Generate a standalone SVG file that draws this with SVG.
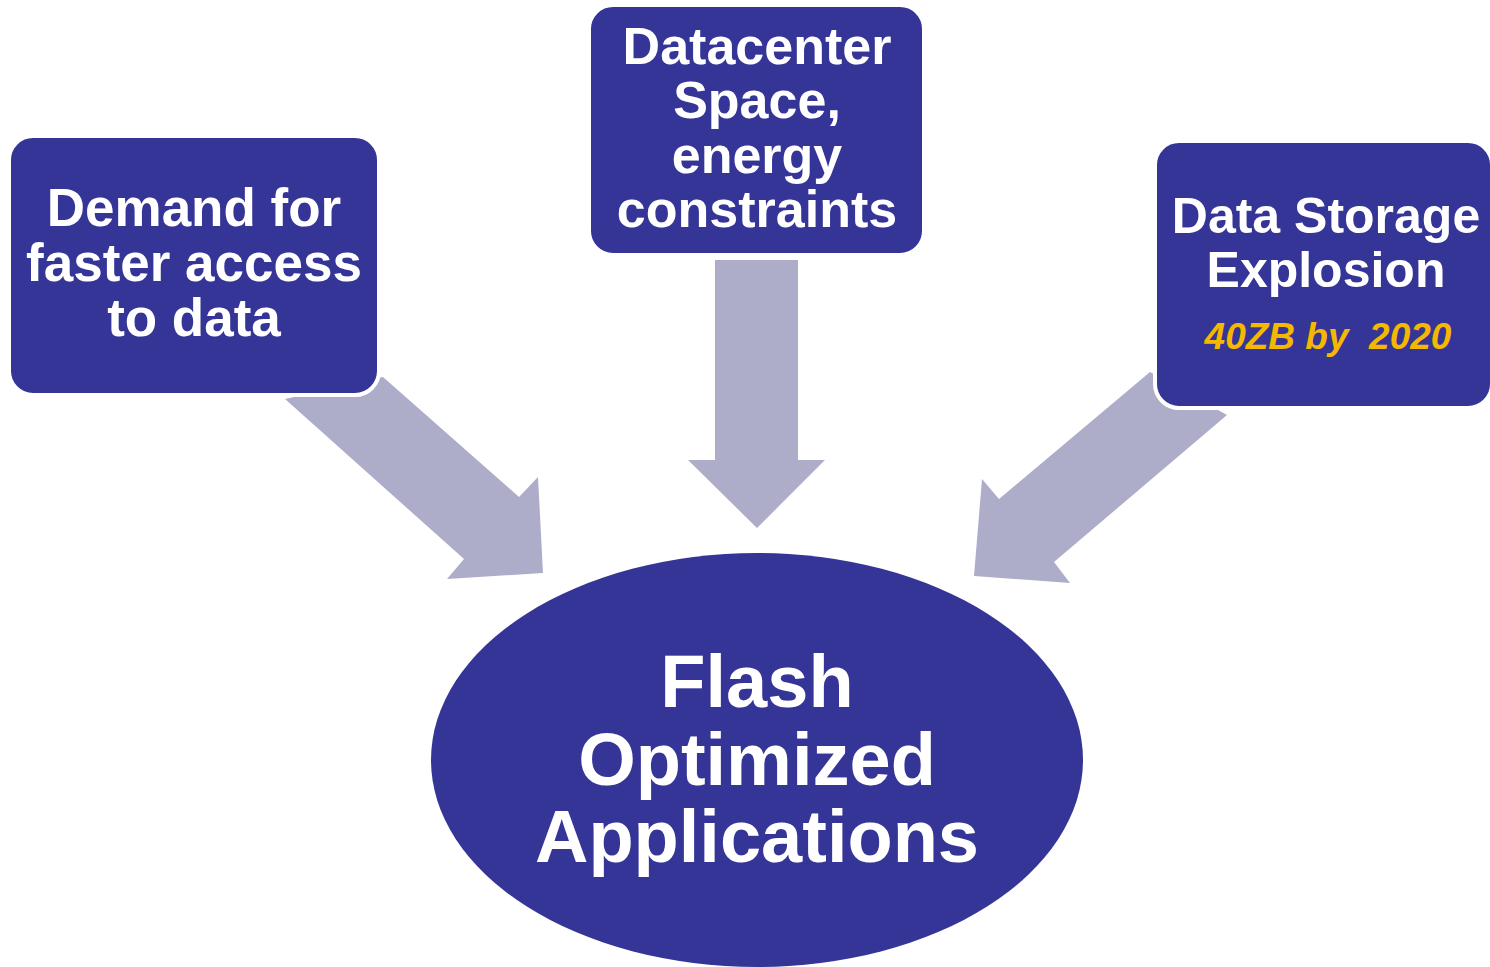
<svg xmlns="http://www.w3.org/2000/svg" width="1490" height="967" viewBox="0 0 1490 967">
<style>
.arrow{fill:#ADADC9;stroke:none}
.box{fill:#353598;stroke:#FFFFFF;stroke-width:4}
.t{font-family:"Liberation Sans",Arial,sans-serif;font-weight:bold;fill:#FFFFFF;text-anchor:middle}
.sm{font-size:53px}
.big{font-size:74px}
.yel{font-family:"Liberation Sans",Arial,sans-serif;font-weight:bold;font-style:italic;fill:#F5B800;text-anchor:middle;font-size:37px}
</style>
<rect width="1490" height="967" fill="#FFFFFF"/>
<g id="connectors">
<polygon class="arrow" points="285,399 383,377 519,497 538,477 543,573 447,579 464,559"/>
<polygon class="arrow" points="715,260 798,260 798,460 825,460 757,528 688,460 715,460"/>
<polygon class="arrow" points="1150,372 1227,415 1054,562 1070,583 974,576 982,479 999,499"/>
</g>
<g id="node-demand">
<rect class="box" x="9" y="136" width="370" height="259" rx="24"/>
<text class="t sm" x="194" y="226">Demand for</text>
<text class="t sm" x="194" y="281">faster access</text>
<text class="t sm" x="194" y="336">to data</text>
</g>
<g id="node-datacenter">
<rect class="box" x="589" y="5" width="335" height="250" rx="24"/>
<text class="t" style="font-size:52px" x="757" y="64">Datacenter</text>
<text class="t" style="font-size:52px" x="757" y="118">Space,</text>
<text class="t" style="font-size:52px" x="757" y="173">energy</text>
<text class="t" style="font-size:52px" x="757" y="227">constraints</text>
</g>
<g id="node-storage">
<rect class="box" x="1155" y="141" width="337" height="267" rx="24"/>
<text class="t" style="font-size:50px" x="1326" y="233">Data Storage</text>
<text class="t" style="font-size:50px" x="1326" y="287">Explosion</text>
<text class="yel" x="1328" y="349" xml:space="preserve">40ZB by  2020</text>
</g>
<g id="node-flash">
<ellipse cx="757" cy="760" rx="326" ry="207" fill="#353598"/>
<text class="t big" x="757" y="707">Flash</text>
<text class="t big" x="757" y="785">Optimized</text>
<text class="t big" x="757" y="862">Applications</text>
</g>
</svg>
